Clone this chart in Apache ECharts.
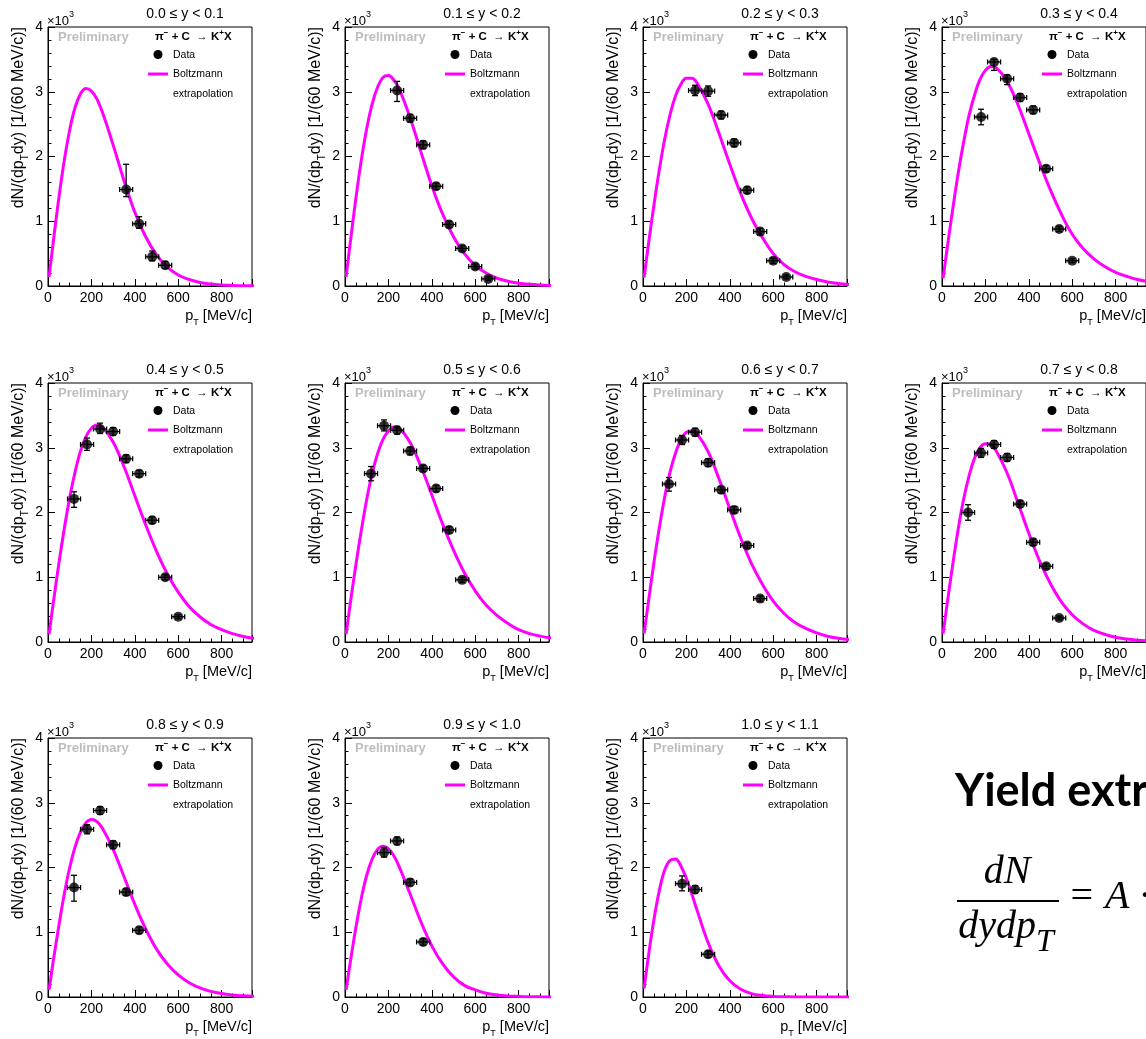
<!DOCTYPE html>
<html>
<head>
<meta charset="utf-8">
<title>K+ pT spectra in rapidity slices</title>
<script src="https://cdn.jsdelivr.net/npm/echarts@6/dist/echarts.min.js"></script>
<style>
  html, body { margin: 0; padding: 0; background: #fff; }
  #chart { width: 1146px; height: 1039px; }
</style>
</head>
<body>
<div id="chart"></div>
<script>
// rapidity slices, one panel each
const yBins = [
  '0.0 ≤ y < 0.1', '0.1 ≤ y < 0.2', '0.2 ≤ y < 0.3', '0.3 ≤ y < 0.4',
  '0.4 ≤ y < 0.5', '0.5 ≤ y < 0.6', '0.6 ≤ y < 0.7', '0.7 ≤ y < 0.8',
  '0.8 ≤ y < 0.9', '0.9 ≤ y < 1.0', '1.0 ≤ y < 1.1'
];

// Boltzmann extrapolation curves (units of 10^3)
const curveX = [5, 25, 50, 75, 100, 125, 150, 175, 200, 225, 250, 300, 350, 400, 450, 500, 550, 600, 650, 700, 750, 800, 850, 900, 950];
const fit_y00 = [0.14, 0.70, 1.36, 1.94, 2.41, 2.76, 2.97, 3.05, 3.01, 2.89, 2.69, 2.18, 1.63, 1.14, 0.76, 0.48, 0.29, 0.17, 0.10, 0.055, 0.030, 0.016, 0.009, 0.004, 0.002];
const fit_y01 = [0.14, 0.69, 1.35, 1.94, 2.43, 2.81, 3.07, 3.22, 3.25, 3.18, 3.04, 2.60, 2.07, 1.55, 1.11, 0.76, 0.50, 0.32, 0.20, 0.12, 0.074, 0.044, 0.026, 0.015, 0.008];
const fit_y02 = [0.13, 0.64, 1.24, 1.79, 2.27, 2.65, 2.94, 3.12, 3.21, 3.21, 3.13, 2.81, 2.36, 1.88, 1.43, 1.05, 0.75, 0.50, 0.33, 0.22, 0.15, 0.10, 0.063, 0.039, 0.024];
const fit_y03 = [0.12, 0.61, 1.20, 1.75, 2.23, 2.64, 2.95, 3.19, 3.33, 3.39, 3.37, 3.16, 2.80, 2.35, 1.90, 1.48, 1.11, 0.80, 0.58, 0.42, 0.30, 0.21, 0.15, 0.10, 0.068];
const fit_y04 = [0.12, 0.62, 1.21, 1.75, 2.23, 2.63, 2.95, 3.17, 3.30, 3.35, 3.32, 3.09, 2.71, 2.26, 1.81, 1.40, 1.05, 0.77, 0.55, 0.39, 0.27, 0.19, 0.13, 0.085, 0.056];
const fit_y05 = [0.12, 0.61, 1.19, 1.72, 2.20, 2.60, 2.91, 3.13, 3.26, 3.32, 3.30, 3.08, 2.71, 2.27, 1.82, 1.42, 1.07, 0.79, 0.57, 0.41, 0.29, 0.19, 0.13, 0.091, 0.061];
const fit_y06 = [0.13, 0.62, 1.22, 1.76, 2.24, 2.63, 2.92, 3.13, 3.24, 3.26, 3.21, 2.94, 2.52, 2.06, 1.61, 1.21, 0.89, 0.63, 0.44, 0.30, 0.21, 0.14, 0.090, 0.059, 0.038];
const fit_y07 = [0.13, 0.62, 1.21, 1.75, 2.21, 2.57, 2.84, 3.00, 3.06, 3.05, 2.95, 2.61, 2.15, 1.68, 1.25, 0.90, 0.62, 0.42, 0.28, 0.18, 0.12, 0.072, 0.045, 0.027, 0.016];
const fit_y08 = [0.11, 0.57, 1.10, 1.59, 2.00, 2.32, 2.55, 2.69, 2.74, 2.71, 2.61, 2.28, 1.86, 1.43, 1.05, 0.74, 0.51, 0.34, 0.22, 0.14, 0.087, 0.053, 0.032, 0.019, 0.011];
const fit_y09 = [0.11, 0.55, 1.07, 1.52, 1.88, 2.13, 2.28, 2.33, 2.29, 2.18, 2.01, 1.59, 1.16, 0.79, 0.51, 0.31, 0.18, 0.11, 0.058, 0.031, 0.017, 0.009, 0.004, 0.002, 0.001];
const fit_y10 = [0.13, 0.63, 1.19, 1.64, 1.96, 2.11, 2.13, 2.02, 1.83, 1.59, 1.33, 0.84, 0.48, 0.25, 0.12, 0.053, 0.023, 0.009, 0.004, 0.001, 0, 0, 0, 0, 0];

// measured points: bin centres (MeV/c), yields (10^3) and [down, up] errors
const binHalfWidth = 30;
const pt_y00 = [360, 420, 480, 540];
const dn_y00 = [1.49, 0.96, 0.45, 0.32];
const er_y00 = [[0.11, 0.39], [0.07, 0.11], [0.06, 0.09], [0.05, 0.06]];
const pt_y01 = [240, 300, 360, 420, 480, 540, 600, 660];
const dn_y01 = [3.02, 2.59, 2.18, 1.54, 0.95, 0.58, 0.30, 0.11];
const er_y01 = [[0.17, 0.14], [0.06, 0.06], [0.06, 0.06], [0.05, 0.05], [0.05, 0.05], [0.04, 0.04], [0.04, 0.04], [0.03, 0.03]];
const pt_y02 = [240, 300, 360, 420, 480, 540, 600, 660];
const dn_y02 = [3.02, 3.01, 2.64, 2.21, 1.48, 0.84, 0.39, 0.14];
const er_y02 = [[0.08, 0.08], [0.08, 0.08], [0.06, 0.06], [0.06, 0.06], [0.05, 0.05], [0.05, 0.05], [0.04, 0.04], [0.03, 0.03]];
const pt_y03 = [180, 240, 300, 360, 420, 480, 540, 600];
const dn_y03 = [2.61, 3.46, 3.20, 2.91, 2.72, 1.81, 0.88, 0.39];
const er_y03 = [[0.12, 0.12], [0.13, 0.04], [0.09, 0.06], [0.06, 0.06], [0.06, 0.06], [0.05, 0.05], [0.04, 0.04], [0.03, 0.03]];
const pt_y04 = [120, 180, 240, 300, 360, 420, 480, 540, 600];
const dn_y04 = [2.21, 3.05, 3.29, 3.25, 2.83, 2.60, 1.88, 1.00, 0.39];
const er_y04 = [[0.13, 0.11], [0.09, 0.10], [0.07, 0.09], [0.06, 0.06], [0.06, 0.06], [0.05, 0.05], [0.05, 0.05], [0.04, 0.04], [0.03, 0.03]];
const pt_y05 = [120, 180, 240, 300, 360, 420, 480, 540];
const dn_y05 = [2.60, 3.34, 3.27, 2.95, 2.68, 2.37, 1.73, 0.96];
const er_y05 = [[0.11, 0.11], [0.08, 0.09], [0.06, 0.06], [0.06, 0.06], [0.05, 0.05], [0.05, 0.05], [0.05, 0.05], [0.04, 0.04]];
const pt_y06 = [120, 180, 240, 300, 360, 420, 480, 540];
const dn_y06 = [2.44, 3.12, 3.24, 2.77, 2.35, 2.04, 1.49, 0.67];
const er_y06 = [[0.11, 0.10], [0.07, 0.07], [0.06, 0.06], [0.06, 0.06], [0.05, 0.05], [0.05, 0.05], [0.04, 0.04], [0.04, 0.04]];
const pt_y07 = [120, 180, 240, 300, 360, 420, 480, 540];
const dn_y07 = [2.00, 2.92, 3.05, 2.85, 2.13, 1.54, 1.17, 0.37];
const er_y07 = [[0.12, 0.12], [0.07, 0.07], [0.06, 0.06], [0.06, 0.06], [0.05, 0.05], [0.05, 0.05], [0.04, 0.04], [0.03, 0.03]];
const pt_y08 = [120, 180, 240, 300, 360, 420];
const dn_y08 = [1.69, 2.59, 2.88, 2.35, 1.62, 1.03];
const er_y08 = [[0.21, 0.19], [0.07, 0.07], [0.06, 0.06], [0.06, 0.06], [0.05, 0.05], [0.05, 0.05]];
const pt_y09 = [180, 240, 300, 360];
const dn_y09 = [2.23, 2.41, 1.77, 0.85];
const er_y09 = [[0.07, 0.08], [0.06, 0.06], [0.05, 0.05], [0.05, 0.05]];
const pt_y10 = [180, 240, 300];
const dn_y10 = [1.75, 1.66, 0.66];
const er_y10 = [[0.11, 0.12], [0.06, 0.06], [0.05, 0.05]];

const panelFit = [fit_y00, fit_y01, fit_y02, fit_y03, fit_y04, fit_y05, fit_y06, fit_y07, fit_y08, fit_y09, fit_y10];
const panelPt = [pt_y00, pt_y01, pt_y02, pt_y03, pt_y04, pt_y05, pt_y06, pt_y07, pt_y08, pt_y09, pt_y10];
const panelDn = [dn_y00, dn_y01, dn_y02, dn_y03, dn_y04, dn_y05, dn_y06, dn_y07, dn_y08, dn_y09, dn_y10];
const panelErr = [er_y00, er_y01, er_y02, er_y03, er_y04, er_y05, er_y06, er_y07, er_y08, er_y09, er_y10];

// layout
const colLeft = [48, 345, 643, 942];
const rowTop = [27, 383, 738];
const plotW = 204, plotH = 259;
const SANS = '"Liberation Sans"';
const SERIF = '"Liberation Serif"';
const MAGENTA = '#ff00ff';

var chart = echarts.init(document.getElementById('chart'), null, { renderer: 'canvas' });

//误差棒: horizontal bin width + vertical error with caps
function renderErrorBar(params, api) {
  const x = api.value(0), y = api.value(1), lo = api.value(2), hi = api.value(3);
  const c = api.coord([x, y]);
  const xl = api.coord([x - binHalfWidth, y])[0];
  const xr = api.coord([x + binHalfWidth, y])[0];
  const yb = api.coord([x, y - lo])[1];
  const yt = api.coord([x, y + hi])[1];
  const st = { stroke: '#000', lineWidth: 1.3 };
  const seg = (x1, y1, x2, y2) => ({ type: 'line', shape: { x1: x1, y1: y1, x2: x2, y2: y2 }, style: st });
  return {
    type: 'group',
    children: [
      seg(xl, c[1], xr, c[1]),
      seg(xl, c[1] - 2.5, xl, c[1] + 2.5),
      seg(xr, c[1] - 2.5, xr, c[1] + 2.5),
      seg(c[0], yb, c[0], yt),
      seg(c[0] - 3, yb, c[0] + 3, yb),
      seg(c[0] - 3, yt, c[0] + 3, yt)
    ]
  };
}

function plainText(x, y, text, font, align, fill) {
  return { type: 'text', x: x, y: y, z: 10, silent: true,
    style: { text: text, font: font, fill: fill || '#000', textAlign: align || 'left', textVerticalAlign: 'middle' } };
}

//每个面板的文字: 标题, ×10^3, 坐标轴名, 图例, Preliminary
function panelGraphics(i) {
  const L = colLeft[i % 4];
  const T = rowTop[Math.floor(i / 4)];
  const R = L + plotW, B = T + plotH;
  return [
    plainText(L + 137, T - 13, yBins[i], '14px ' + SANS, 'center'),
    { type: 'text', x: L - 1, y: T - 6, z: 10, silent: true,
      style: { text: '{m|×10}{s|3}', textAlign: 'left', textVerticalAlign: 'middle',
        rich: { m: { font: '13px ' + SANS, fill: '#000', lineHeight: 22 },
                s: { font: '9px ' + SANS, fill: '#000', verticalAlign: 'top' } } } },
    { type: 'text', x: L - 29, y: T, rotation: Math.PI / 2, z: 10, silent: true,
      style: { text: '{m|dN/(dp}{s|T}{m|dy) [1/(60 MeV/c)]}', textAlign: 'right', textVerticalAlign: 'middle',
        rich: { m: { font: '16px ' + SANS, fill: '#000', lineHeight: 23 },
                s: { font: '10px ' + SANS, fill: '#000', verticalAlign: 'bottom' } } } },
    { type: 'text', x: R, y: B + 30, z: 10, silent: true,
      style: { text: '{m|p}{s|T}{m| [MeV/c]}', textAlign: 'right', textVerticalAlign: 'middle',
        rich: { m: { font: '14.5px ' + SANS, fill: '#000', lineHeight: 23 },
                s: { font: '9px ' + SANS, fill: '#000', verticalAlign: 'bottom' } } } },
    plainText(L + 10, T + 10, 'Preliminary', 'bold 13px ' + SANS, 'left', '#bdbdbd'),
    { type: 'text', x: L + 107, y: T + 9.5, z: 10, silent: true,
      style: { text: '{m|π}{s|−}{m| + C  → K}{s|+}{m|X}', textAlign: 'left', textVerticalAlign: 'middle',
        rich: { m: { font: 'bold 11.5px ' + SANS, fill: '#000', lineHeight: 16 },
                s: { font: 'bold 8px ' + SANS, fill: '#000', verticalAlign: 'top' } } } },
    { type: 'circle', z: 10, silent: true, shape: { cx: L + 110, cy: T + 27.5, r: 4.5 }, style: { fill: '#000' } },
    plainText(L + 125, T + 28, 'Data', '10.5px ' + SANS),
    { type: 'line', z: 10, silent: true, shape: { x1: L + 100, y1: T + 47, x2: L + 120, y2: T + 47 },
      style: { stroke: MAGENTA, lineWidth: 3 } },
    plainText(L + 125, T + 47, 'Boltzmann', '10.5px ' + SANS),
    plainText(L + 125, T + 67, 'extrapolation', '10.5px ' + SANS)
  ];
}

const grids = [], xAxes = [], yAxes = [], series = [];
let graphics = [];
const axisBlack = { color: '#000', width: 1 };

for (let i = 0; i < panelFit.length; i++) {
  grids.push({
    left: colLeft[i % 4], top: rowTop[Math.floor(i / 4)], width: plotW, height: plotH,
    show: true, borderColor: '#000', borderWidth: 1, backgroundColor: 'transparent',
    containLabel: false, outerBoundsMode: 'none'
  });
  xAxes.push({
    gridIndex: i, type: 'value', min: 0, max: 940, interval: 200,
    axisLine: { show: true, onZero: false, lineStyle: axisBlack },
    axisTick: { show: true, inside: true, length: 7, lineStyle: axisBlack },
    minorTick: { show: true, splitNumber: 4, length: 3.5, lineStyle: axisBlack },
    splitLine: { show: false },
    axisLabel: { color: '#000', fontSize: 14, fontFamily: 'Liberation Sans', margin: 5, showMaxLabel: false }
  });
  yAxes.push({
    gridIndex: i, type: 'value', min: 0, max: 4, interval: 1,
    axisLine: { show: true, lineStyle: axisBlack },
    axisTick: { show: true, inside: true, length: 7, lineStyle: axisBlack },
    minorTick: { show: true, splitNumber: 5, length: 3.5, lineStyle: axisBlack },
    splitLine: { show: false },
    axisLabel: { color: '#000', fontSize: 14, fontFamily: 'Liberation Sans', margin: 5 }
  });
  series.push({
    type: 'line', xAxisIndex: i, yAxisIndex: i, silent: true, z: 2,
    data: curveX.map((x, k) => [x, panelFit[i][k]]),
    showSymbol: false, smooth: 0.4, clip: true,
    lineStyle: { color: MAGENTA, width: 3 }
  });
  series.push({
    type: 'custom', xAxisIndex: i, yAxisIndex: i, silent: true, z: 3,
    renderItem: renderErrorBar, encode: { x: 0, y: 1 },
    data: panelPt[i].map((x, k) => [x, panelDn[i][k], panelErr[i][k][0], panelErr[i][k][1]])
  });
  series.push({
    type: 'scatter', xAxisIndex: i, yAxisIndex: i, silent: true, z: 4,
    symbol: 'circle', symbolSize: 10, itemStyle: { color: '#000' },
    data: panelPt[i].map((x, k) => [x, panelDn[i][k]])
  });
  graphics = graphics.concat(panelGraphics(i));
}

// right-bottom text block (cut off at the page edge in the original slide)
graphics.push(plainText(955, 791, 'Yield extraction', 'bold 45px Lato'));
graphics.push(plainText(1007, 872, 'dN', 'italic 40px ' + SERIF, 'center'));
graphics.push({ type: 'line', z: 10, silent: true, shape: { x1: 957, y1: 901, x2: 1059, y2: 901 },
  style: { stroke: '#000', lineWidth: 2 } });
graphics.push({ type: 'text', x: 1006, y: 927, z: 10, silent: true,
  style: { text: '{m|dydp}{s|T}', textAlign: 'center', textVerticalAlign: 'middle',
    rich: { m: { font: 'italic 40px ' + SERIF, fill: '#000', lineHeight: 63 },
            s: { font: 'italic 32px ' + SERIF, fill: '#000', verticalAlign: 'bottom' } } } });
graphics.push(plainText(1068, 897, '= A ·', 'italic 40px ' + SERIF));

var option = {
  animation: false,
  backgroundColor: '#fff',
  grid: grids,
  xAxis: xAxes,
  yAxis: yAxes,
  series: series,
  graphic: { elements: graphics }
};
chart.setOption(option);
</script>
</body>
</html>
